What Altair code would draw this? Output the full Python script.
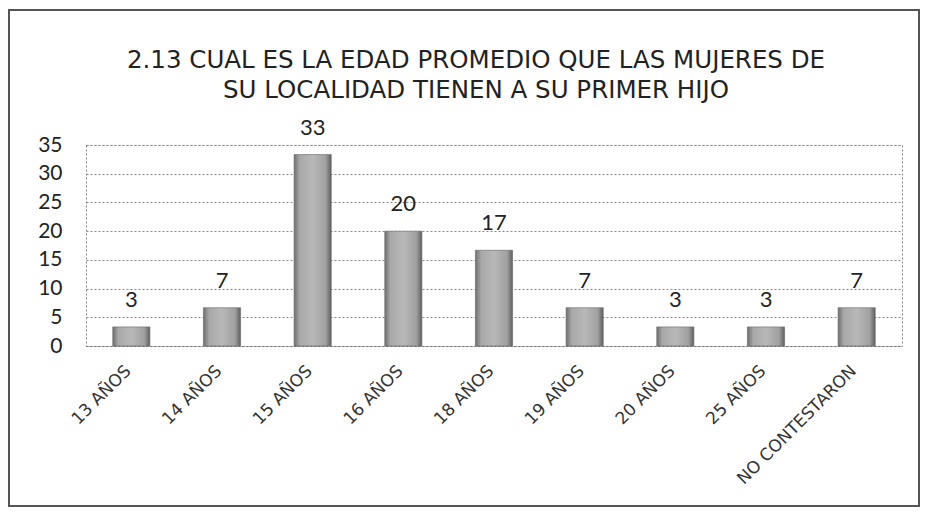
import altair as alt
import pandas as pd

categories = ["13 AÑOS", "14 AÑOS", "15 AÑOS", "16 AÑOS", "18 AÑOS",
              "19 AÑOS", "20 AÑOS", "25 AÑOS", "NO CONTESTARON"]
values = [3.33, 6.67, 33.33, 20.0, 16.67, 6.67, 3.33, 3.33, 6.67]
y_ticks = [0, 5, 10, 15, 20, 25, 30, 35]
title_text = ("2.13 CUAL ES LA EDAD PROMEDIO QUE LAS MUJERES DE\n"
              "SU LOCALIDAD TIENEN A SU PRIMER HIJO")

df = pd.DataFrame({"cat": categories, "val": values})

W, H = 816, 201
PL, PT, PR, PB = 78, 137, 23, 164

x_enc = alt.X("cat:N", sort=categories,
              scale=alt.Scale(paddingInner=0.59, paddingOuter=0.295),
              axis=alt.Axis(title=None, labelAngle=-45, labelAlign="right",
                            labelBaseline="middle", labelPadding=22,
                            labelOffset=-3,
                            labelFont="DejaVu Sans", labelFontSize=17,
                            labelColor="#333", ticks=False,
                            domainColor="#777", domainDash=[2, 2],
                            labelLimit=300, labelOverlap=False))
y_enc = alt.Y("val:Q", scale=alt.Scale(domain=[0, 35], nice=False),
              axis=alt.Axis(title=None, values=y_ticks, labelPadding=24,
                            labelFont="Lato", labelFontSize=21,
                            labelColor="#222", ticks=False, domain=False,
                            labelOverlap=False,
                            gridColor="#888", gridDash=[2, 2],
                            gridWidth=1))

grad = alt.Gradient(gradient="linear", x1=0, y1=0, x2=1, y2=0,
                    stops=[alt.GradientStop(color="#6e6e6e", offset=0),
                           alt.GradientStop(color="#a8a8a8", offset=0.15),
                           alt.GradientStop(color="#b8b8b8", offset=0.5),
                           alt.GradientStop(color="#a0a0a0", offset=0.85),
                           alt.GradientStop(color="#5e5e5e", offset=1)])

bars = alt.Chart(df).mark_bar(color=grad, stroke="#666", strokeWidth=0.6).encode(
    x=x_enc, y=y_enc)

labels = alt.Chart(df).mark_text(font="Lato", fontSize=22, color="#222",
                                 baseline="alphabetic", dy=-20).encode(
    x=x_enc,
    y=y_enc,
    text=alt.Text("val:Q", format=".0f"))

title = alt.Chart(pd.DataFrame({"t": [title_text]})).mark_text(
    font="DejaVu Sans", fontSize=24.5, color="#222", align="center",
    baseline="alphabetic", lineBreak="\n", lineHeight=30).encode(
    x=alt.value(390), y=alt.value(-77), text="t:N")

frame = alt.Chart(pd.DataFrame({"k": [0]})).mark_rect(
    fill=None, stroke="#555", strokeWidth=2).encode(
    x=alt.value(-PL + 1), x2=alt.value(W + PR - 6),
    y=alt.value(-PT + 2), y2=alt.value(H + PB - 4))

chart = alt.layer(frame, bars, labels, title).properties(
    width=W, height=H,
    autosize=alt.AutoSizeParams(type="none"),
    padding={"left": PL, "top": PT, "right": PR, "bottom": PB},
).configure_view(stroke="#888", strokeDash=[2, 2], strokeWidth=1)

chart.save("out.html", embed_options={"renderer": "svg", "actions": False})
